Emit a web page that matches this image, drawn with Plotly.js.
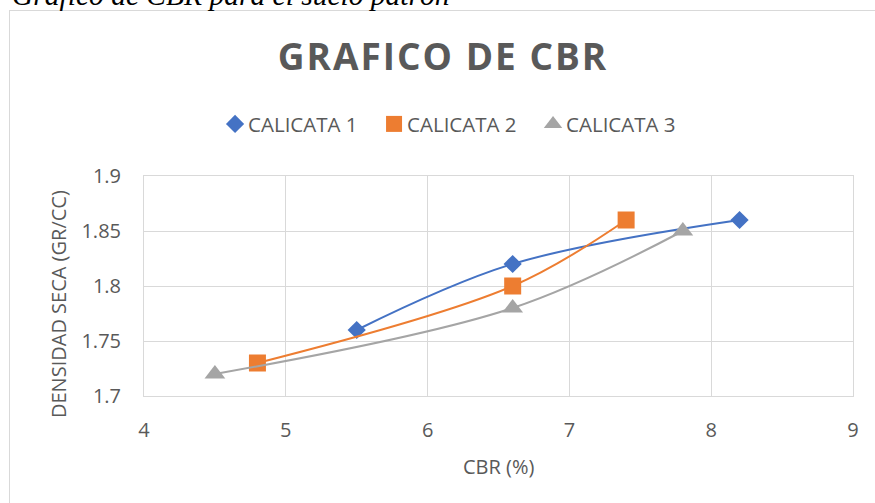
<!DOCTYPE html>
<html>
<head>
<meta charset="utf-8">
<script src="https://cdn.plot.ly/plotly-3.0.1.min.js"></script>
<style>
  html, body { margin: 0; padding: 0; background: #fff; overflow: hidden; }
  #frame { position: absolute; left: 9px; top: 10px; width: 900px; height: 600px; border: 1px solid #d9d9d9; box-sizing: border-box; }
  #caption { position: absolute; left: 12px; top: -18.7px; font-family: "Liberation Serif", "Times New Roman", serif; font-style: italic; font-size: 29.5px; line-height: 29.5px; color: #000; white-space: nowrap; }
  #chart { position: absolute; left: 0; top: 0; width: 875px; height: 503px; }
  .gtitle { letter-spacing: 2px; }
  .legendlines { display: none; }
</style>
</head>
<body>
<div id="frame"></div>
<div id="caption">Gráfico de CBR para el suelo patrón</div>
<div id="chart"></div>
<script>
// Data
const seriesNames = ["CALICATA 1", "CALICATA 2", "CALICATA 3"];
const cbr1 = [5.5, 6.6, 8.2];
const dens1 = [1.76, 1.82, 1.86];
const cbr2 = [4.8, 6.6, 7.4];
const dens2 = [1.73, 1.80, 1.86];
const cbr3 = [4.5, 6.6, 7.8];
const dens3 = [1.72, 1.78, 1.85];
const chartTitle = "GRAFICO DE CBR";
const xTitle = "CBR (%)";
const yTitle = "DENSIDAD SECA (GR/CC)";

const colors = ["#4472C4", "#ED7D31", "#A5A5A5"];
const symbols = ["diamond", "square", "triangle-up"];
const sizes = [14, 17, 18];
const xs = [cbr1, cbr2, cbr3];
const ys = [dens1, dens2, dens3];

const traces = seriesNames.map((name, i) => ({
  type: "scatter",
  mode: "lines+markers",
  name: name,
  x: xs[i],
  y: ys[i],
  line: { color: colors[i], width: 2, shape: "spline", smoothing: 1 },
  marker: { color: colors[i], symbol: symbols[i], size: sizes[i], line: { width: 0 } },
  cliponaxis: false
}));

const fontFam = "Open Sans, sans-serif";
const grey = "#595959";

const layout = {
  width: 875,
  height: 503,
  paper_bgcolor: "rgba(0,0,0,0)",
  plot_bgcolor: "rgba(0,0,0,0)",
  margin: { l: 144, r: 22, t: 176, b: 107 },
  font: { family: fontFam, color: grey, size: 20 },
  title: {
    text: chartTitle,
    font: { family: fontFam, size: 37, color: grey, weight: "bold" },
    xref: "container", yref: "container",
    x: 443 / 875, xanchor: "center",
    y: 1 - 57 / 503, yanchor: "middle"
  },
  showlegend: true,
  legend: {
    orientation: "h",
    x: 0.4366, xanchor: "center",
    y: 1.236, yanchor: "middle",
    font: { family: fontFam, size: 20.5, color: grey },
    itemwidth: 30,
    entrywidth: 114,
    entrywidthmode: "pixels",
    traceorder: "normal"
  },
  xaxis: {
    range: [4, 9],
    dtick: 1,
    tick0: 4,
    showgrid: true,
    gridcolor: "#d9d9d9",
    gridwidth: 1,
    showline: true,
    linecolor: "#d9d9d9",
    linewidth: 1,
    mirror: true,
    zeroline: false,
    ticks: "",
    ticklabelstandoff: 16,
    tickfont: { family: fontFam, size: 20, color: grey },
    fixedrange: true
  },
  yaxis: {
    range: [1.7, 1.9],
    dtick: 0.05,
    tick0: 1.7,
    showgrid: true,
    gridcolor: "#d9d9d9",
    gridwidth: 1,
    showline: true,
    linecolor: "#d9d9d9",
    linewidth: 1,
    mirror: true,
    zeroline: false,
    ticks: "",
    ticklabelstandoff: 18,
    tickfont: { family: fontFam, size: 20, color: grey },
    fixedrange: true
  },
  annotations: [
    {
      text: xTitle, xref: "paper", yref: "paper",
      x: 0.5, y: (396 - 466) / 220, xanchor: "center", yanchor: "middle",
      showarrow: false, font: { family: fontFam, size: 20, color: grey }
    },
    {
      text: yTitle, xref: "paper", yref: "paper",
      x: (58 - 144) / 709, y: (396 - 304) / 220, xanchor: "center", yanchor: "middle",
      textangle: -90,
      showarrow: false, font: { family: fontFam, size: 20, color: grey }
    }
  ]
};

Plotly.newPlot("chart", traces, layout, { displayModeBar: false, staticPlot: true }).then(function () {
  // Pull legend labels closer to their symbols, as in the reference
  document.querySelectorAll("#chart .legendtext").forEach(function (t) {
    t.setAttribute("x", "33");
  });
});
</script>
</body>
</html>
